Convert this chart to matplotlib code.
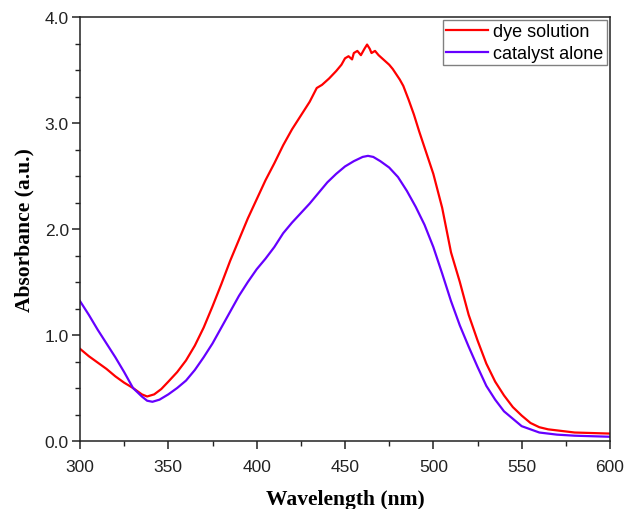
import matplotlib
matplotlib.use("Agg")
import matplotlib.pyplot as plt
from matplotlib.ticker import MultipleLocator, FormatStrFormatter

wl_dye = [300, 305, 310, 315, 320, 325, 330, 335, 338, 342, 346, 350, 355, 360, 365,
          370, 375, 380, 385, 390, 395, 400, 405, 410, 415, 420, 425, 430, 434, 437,
          441, 445, 448, 450, 452, 454, 455, 457, 459, 461, 462.5, 464, 465, 467, 469,
          471, 473, 475, 477, 479, 481, 483, 486, 489, 492, 496, 500, 505, 510, 515,
          520, 525, 530, 535, 540, 545, 550, 555, 560, 565, 570, 580, 590, 600]
abs_dye = [0.87, 0.80, 0.74, 0.68, 0.61, 0.55, 0.50, 0.44, 0.42, 0.44, 0.49, 0.56, 0.65, 0.76, 0.90,
           1.07, 1.27, 1.48, 1.70, 1.90, 2.10, 2.28, 2.46, 2.62, 2.79, 2.94, 3.07, 3.20, 3.33, 3.36,
           3.42, 3.49, 3.55, 3.61, 3.63, 3.60, 3.66, 3.68, 3.64, 3.70, 3.74, 3.70, 3.66, 3.68, 3.64,
           3.61, 3.58, 3.55, 3.51, 3.46, 3.41, 3.35, 3.22, 3.08, 2.92, 2.72, 2.52, 2.20, 1.78, 1.50,
           1.19, 0.95, 0.73, 0.56, 0.43, 0.32, 0.24, 0.17, 0.13, 0.11, 0.10, 0.08, 0.075, 0.07]

wl_cat = [300, 305, 310, 315, 320, 325, 330, 335, 338, 341, 345, 350, 355, 360, 365, 370,
          375, 380, 385, 390, 395, 400, 405, 410, 415, 420, 425, 430, 435, 440, 445, 450,
          455, 460, 463, 466, 470, 475, 480, 485, 490, 495, 500, 505, 510, 515, 520, 525,
          530, 535, 540, 545, 550, 555, 560, 570, 580, 590, 600]
abs_cat = [1.32, 1.19, 1.05, 0.92, 0.79, 0.65, 0.50, 0.42, 0.38, 0.37, 0.39, 0.44, 0.50, 0.57, 0.67, 0.79,
           0.92, 1.07, 1.22, 1.37, 1.50, 1.62, 1.72, 1.83, 1.96, 2.06, 2.15, 2.24, 2.34, 2.44, 2.52, 2.59,
           2.64, 2.68, 2.69, 2.68, 2.64, 2.58, 2.49, 2.36, 2.21, 2.04, 1.83, 1.58, 1.32, 1.09, 0.89, 0.70,
           0.52, 0.39, 0.28, 0.21, 0.14, 0.11, 0.08, 0.06, 0.05, 0.045, 0.04]

labels = ["dye solution", "catalyst alone"]
colors = ["#ff0000", "#6600ff"]

fig = plt.figure(figsize=(6.27, 5.10), dpi=100)
ax = fig.add_axes([80/627, 1-442/510, (610-80)/627, (442-18)/510])

ax.plot(wl_dye, abs_dye, color=colors[0], lw=1.6, label=labels[0])
ax.plot(wl_cat, abs_cat, color=colors[1], lw=1.6, label=labels[1])

ax.set_xlim(300, 600)
ax.set_ylim(0, 4.0)
ax.xaxis.set_major_locator(MultipleLocator(50))
ax.xaxis.set_minor_locator(MultipleLocator(25))
ax.yaxis.set_major_locator(MultipleLocator(1.0))
ax.yaxis.set_minor_locator(MultipleLocator(0.25))
ax.yaxis.set_major_formatter(FormatStrFormatter('%.1f'))

for s in ax.spines.values():
    s.set_linewidth(1.1)
    s.set_color('#222222')
ax.tick_params(which='major', direction='out', length=6, width=1.1, pad=2,
               labelsize=12.5, colors='#222222', top=False, right=False)
ax.tick_params(which='minor', direction='out', length=3.5, width=1.0,
               top=False, right=False, colors='#222222')
for lab in ax.get_xticklabels() + ax.get_yticklabels():
    lab.set_fontfamily('Liberation Sans')
ax.tick_params(axis='x', pad=7)

ax.set_xlabel("Wavelength (nm)", fontfamily='Liberation Serif', fontweight='bold', fontsize=15.5, labelpad=11)
ax.set_ylabel("Absorbance (a.u.)", fontfamily='Liberation Serif', fontweight='bold', fontsize=15.5, labelpad=7)

leg = ax.legend(loc='upper right', prop={'family': 'Liberation Sans', 'size': 13},
                frameon=True, fancybox=False, edgecolor='#808080', framealpha=1,
                borderaxespad=0.15, handlelength=2.3, handletextpad=0.3,
                borderpad=0.2, labelspacing=0.25)
leg.get_frame().set_linewidth(1.0)

fig.savefig("out.png", dpi=100)
